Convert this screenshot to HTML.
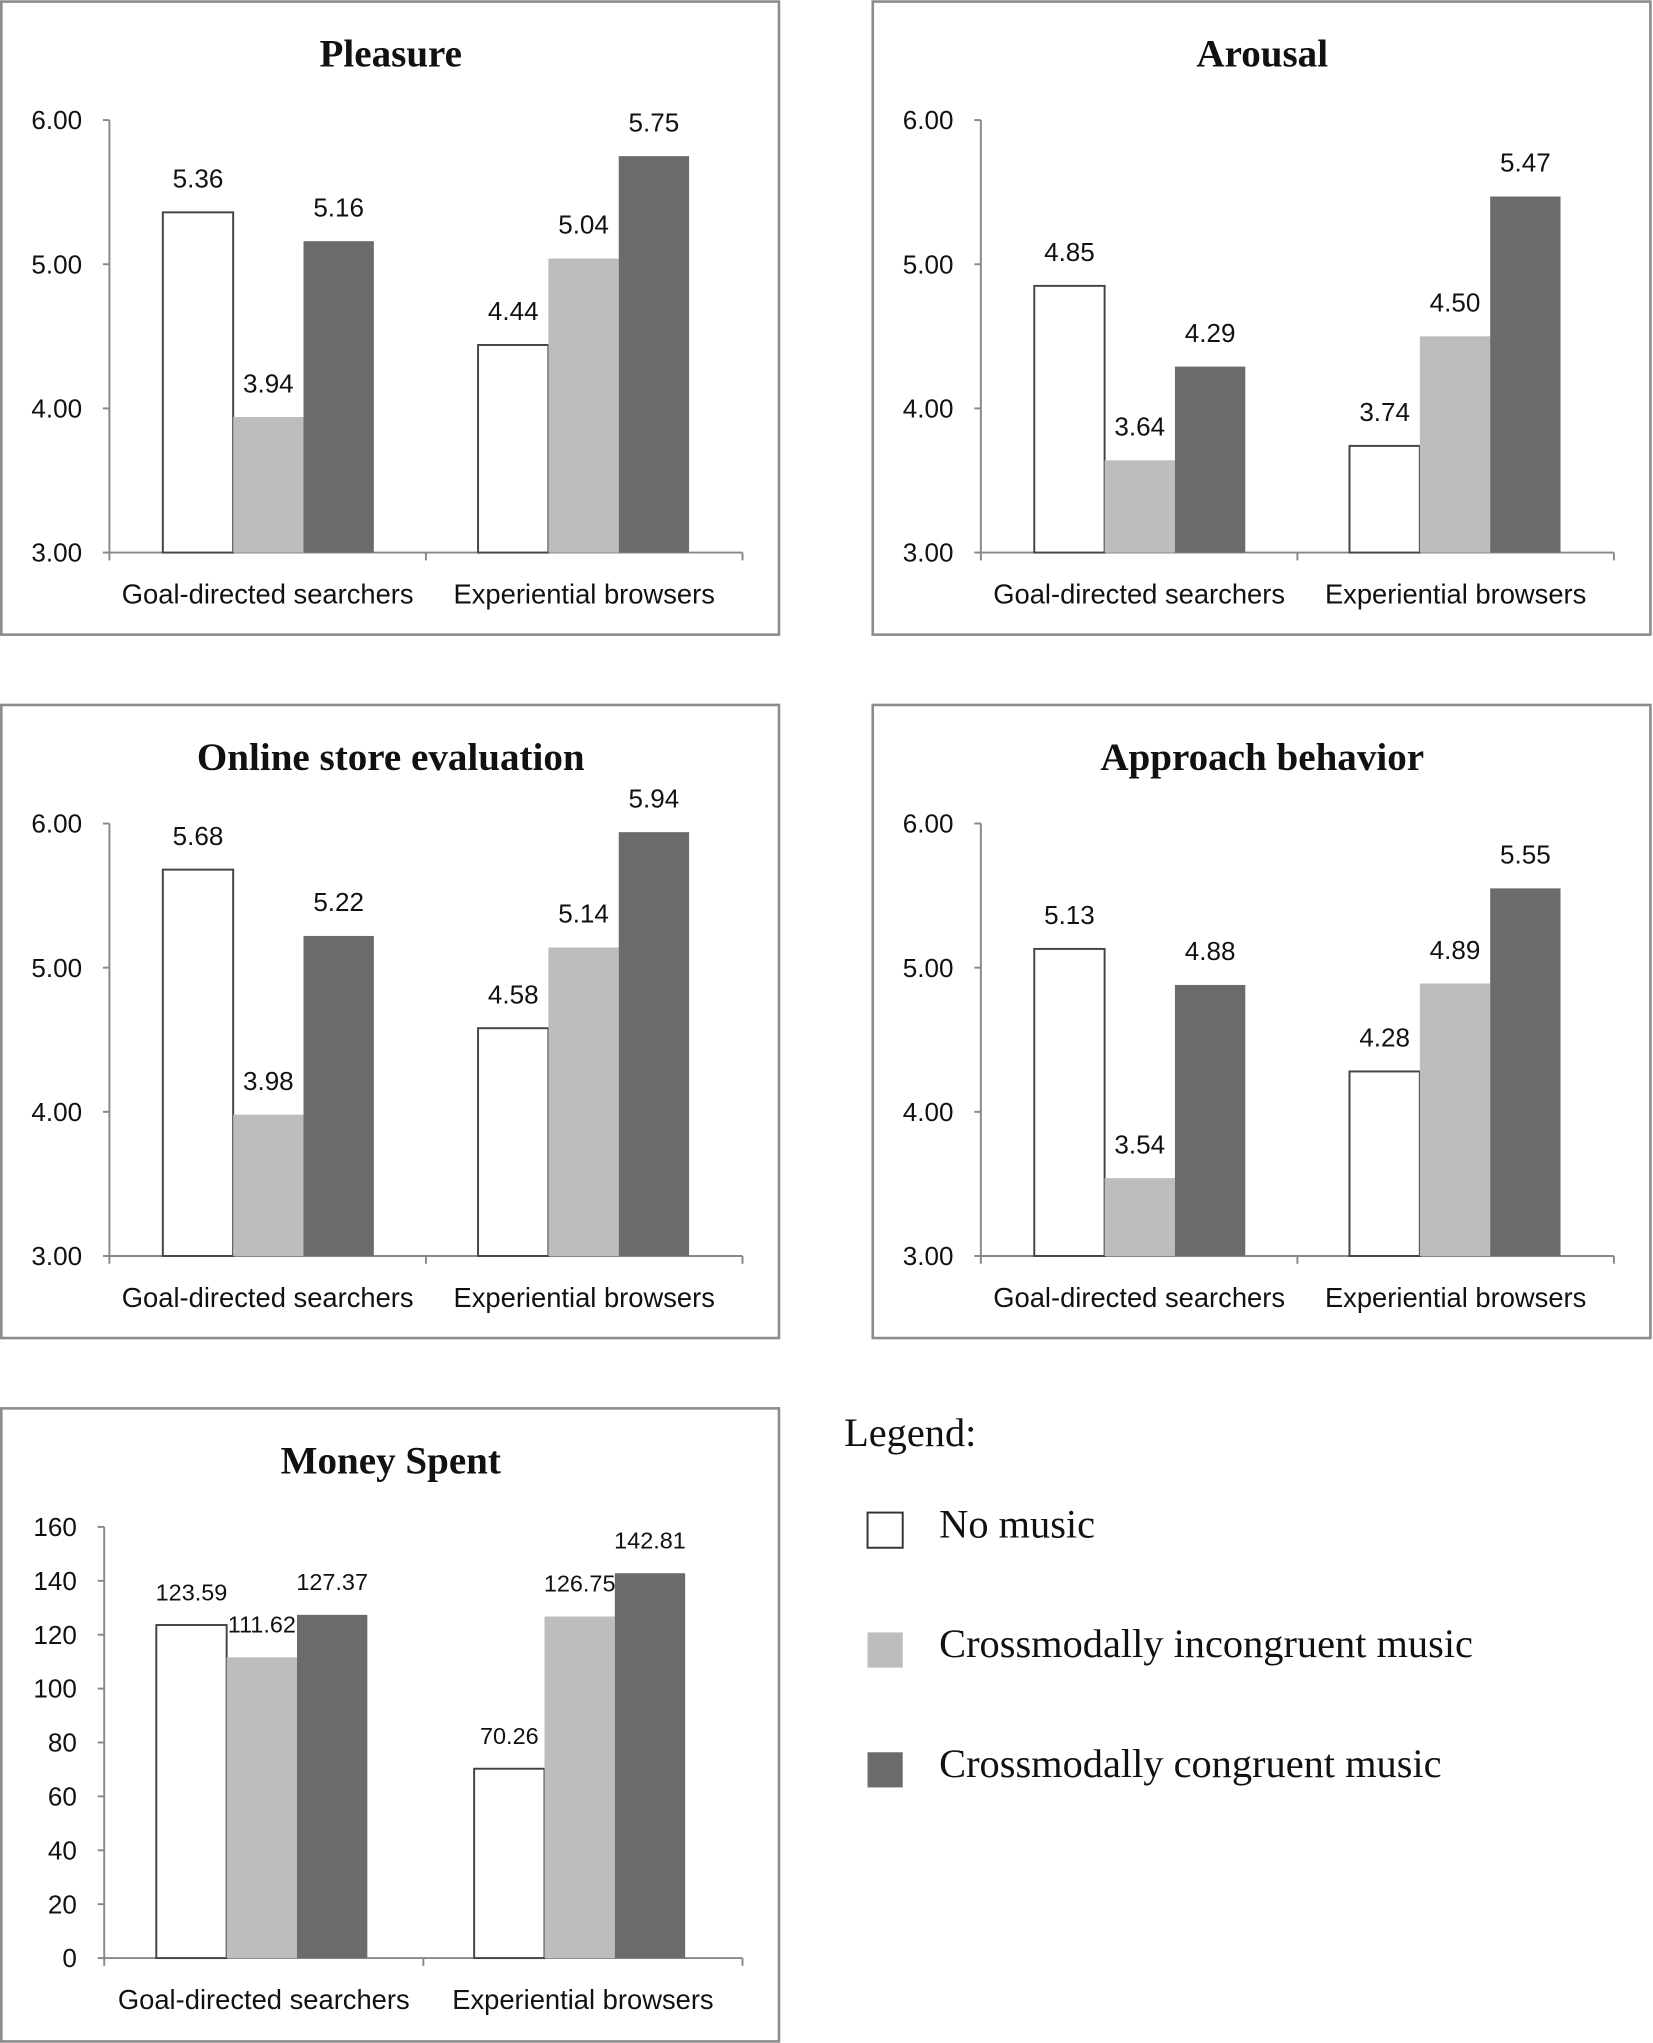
<!DOCTYPE html>
<html><head><meta charset="utf-8"><style>
html,body{margin:0;padding:0;background:#fff}
svg{display:block}
text{font-family:"Liberation Sans",sans-serif;fill:#111}
.t{font-family:"Liberation Serif",serif;font-weight:bold;font-size:30px}
.lg{font-family:"Liberation Serif",serif;font-size:31px}
</style></head><body>
<svg id="c" width="1653" height="2043" viewBox="0 0 1269 1568" xmlns="http://www.w3.org/2000/svg"></svg>
<script>
const categories = ["Goal-directed searchers","Experiential browsers"];
const seriesNames = ["No music","Crossmodally incongruent music","Crossmodally congruent music"];
const pleasureNo = [5.36,4.44], pleasureInc = [3.94,5.04], pleasureCon = [5.16,5.75];
const arousalNo = [4.85,3.74], arousalInc = [3.64,4.50], arousalCon = [4.29,5.47];
const storeNo = [5.68,4.58], storeInc = [3.98,5.14], storeCon = [5.22,5.94];
const approachNo = [5.13,4.28], approachInc = [3.54,4.89], approachCon = [4.88,5.55];
const moneyNo = [123.59,70.26], moneyInc = [111.62,126.75], moneyCon = [127.37,142.81];
const ratingTicks = [3,4,5,6];
const moneyTicks = [0,20,40,60,80,100,120,140,160];

const svg = document.getElementById('c');
const NS = "http://www.w3.org/2000/svg";
function mk(tag, attrs, parent){const e=document.createElementNS(NS,tag);for(const k in attrs)e.setAttribute(k,attrs[k]);(parent||svg).appendChild(e);return e;}
const fills = ["#ffffff","#bdbdbd","#6b6b6b"];

function panel(name, title, ox, oy, series, ticks, dec, axX, top, bot, vmin, vmax, bw, g1){
  const g = mk('g',{});
  
  
  const box = mk('rect',{x:ox+1,y:oy+1,width:597,height:486,fill:'#fff',stroke:'#8c8c8c','stroke-width':2},g);
  
  
  const tt = mk('text',{x:ox+300,y:oy+51,'text-anchor':'middle',class:'t'},g);
  tt.textContent = title;
  
  
  const y = v => bot - (v - vmin)/(vmax - vmin)*(bot - top);
  const right = ox+570;
  const mid = (axX + right)/2;
  mk('line',{x1:axX,y1:top,x2:axX,y2:bot,stroke:'#888','stroke-width':1.5},g);
  mk('line',{x1:axX,y1:bot,x2:right,y2:bot,stroke:'#888','stroke-width':1.5},g);
  [axX,mid,right].forEach(x=>mk('line',{x1:x,y1:bot,x2:x,y2:bot+6,stroke:'#888','stroke-width':1.5},g));
  ticks.forEach(t=>{
    mk('line',{x1:axX-5,y1:y(t),x2:axX,y2:y(t),stroke:'#888','stroke-width':1.5},g);
    const tx = mk('text',{x:axX-21,y:y(t)+7,'text-anchor':'end','font-size':20},g);
    tx.textContent = t.toFixed(dec);
    
    
  });
  categories.forEach((c,ci)=>{
    const cx = ci===0 ? (axX+mid)/2 : (mid+right)/2;
    const lt = mk('text',{x:cx,y:bot+39,'text-anchor':'middle','font-size':21},g);
    lt.textContent = c;
    
    
    const start = ci===0 ? axX+g1 : mid+g1-1;
    series.forEach((s,si)=>{
      const v = s[ci];
      const x = start + si*bw;
      const r = mk('rect',{x:x,y:y(v),width:bw,height:bot-y(v),fill:fills[si],stroke:si===0?'#444':'none','stroke-width':si===0?1.5:0},g);
      
      
      const vt = mk('text',{x:x+bw/2,y:y(v)-19,'text-anchor':'middle','font-size':vmax<10?20:18},g);
      vt.textContent = v.toFixed(2);
      
      
    });
  });
}
panel('pleasure','Pleasure',0,0,[pleasureNo,pleasureInc,pleasureCon],ratingTicks,2,84,92,424,3,6,54,41);
panel('arousal','Arousal',669,0,[arousalNo,arousalInc,arousalCon],ratingTicks,2,753,92,424,3,6,54,41);
panel('store-evaluation','Online store evaluation',0,540,[storeNo,storeInc,storeCon],ratingTicks,2,84,632,964,3,6,54,41);
panel('approach','Approach behavior',669,540,[approachNo,approachInc,approachCon],ratingTicks,2,753,632,964,3,6,54,41);
panel('money','Money Spent',0,1080,[moneyNo,moneyInc,moneyCon],moneyTicks,0,80,1172,1503,0,160,54,40);

const lgT = mk('text',{x:648,y:1110,class:'lg'});
lgT.textContent = 'Legend:';


seriesNames.forEach((n,i)=>{
  const yy = 1161 + i*92;
  const r = mk('rect',{x:666,y:yy,width:27,height:27,fill:fills[i],stroke:i===0?'#333':'none','stroke-width':1.5});
  
  
  const t = mk('text',{x:721,y:yy+19,class:'lg'});
  t.textContent = n;
  
  
});
</script>
</body></html>
